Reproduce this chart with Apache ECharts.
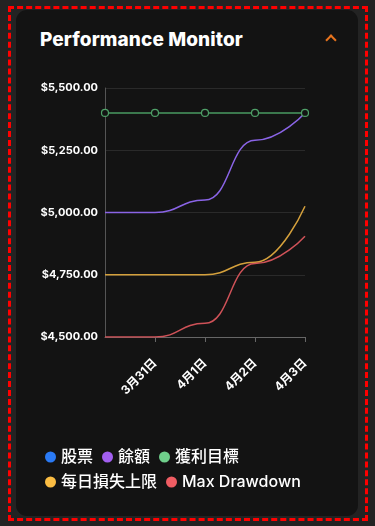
<!DOCTYPE html>
<html>
<head>
<meta charset="utf-8">
<script src="https://cdn.jsdelivr.net/npm/echarts@6/dist/echarts.min.js"></script>
<style>
  html, body { margin: 0; padding: 0; background: #232323; width: 375px; height: 526px; overflow: hidden; }
  .frame { position: absolute; left: 8px; top: 6px; width: 354px; height: 509px; border: 3px dashed #ff0000; }
  .card { position: absolute; left: 16px; top: 10px; width: 342px; height: 506px; background: #131313; border-radius: 11px; }
  .title { position: absolute; left: 40px; top: 28px; color: #fff; font: 800 19px Inter, Lato, sans-serif; letter-spacing: 0.1px; }
  .chev { position: absolute; left: 327px; top: 36px; width: 6px; height: 6px; border-left: 2px solid #e8741e; border-top: 2px solid #e8741e; transform: rotate(45deg); }
  #chart { position: absolute; left: 0; top: 0; width: 375px; height: 526px; }
</style>
</head>
<body>
<div class="frame"></div>
<div class="card"></div>
<div class="title">Performance Monitor</div>
<div class="chev"></div>
<div id="chart"></div>
<script>
// dates on the x axis (first one sits on the y axis, label hidden)
const dates = ['3月30日', '3月31日', '4月1日', '4月2日', '4月3日'];
const stocks = [];
const balance = [5000, 5000, 5050, 5290, 5400];
const profitTarget = [5400, 5400, 5400, 5400, 5400];
const dailyLossLimit = [4750, 4750, 4750, 4800, 5025];
const maxDrawdown = [4500, 4500, 4555, 4795, 4905];
const yTicks = { min: 4500, max: 5500, step: 250 };

const fmt = (v) => '$' + v.toLocaleString('en-US', { minimumFractionDigits: 2, maximumFractionDigits: 2 });

const mkLine = (name, data, color, lineColor, extra) => Object.assign({
  name: name,
  type: 'line',
  data: data,
  smooth: true,
  smoothMonotone: 'x',
  showSymbol: false,
  symbol: 'none',
  itemStyle: { color: color },
  lineStyle: { color: lineColor, width: 1.5 }
}, extra || {});

const chart = echarts.init(document.getElementById('chart'));
chart.setOption({
  backgroundColor: 'transparent',
  animation: false,
  grid: { left: 105, right: 70, top: 88, bottom: 189, containLabel: false },
  legend: {
    left: 40, top: 444, width: 290,
    icon: 'circle', itemWidth: 11, itemHeight: 11, itemGap: 9,
    textStyle: { color: '#fff', fontSize: 16, fontFamily: 'Inter, "Noto Sans CJK TC", sans-serif', fontWeight: 500, padding: [0, 0, 0, 0] },
    data: ['股票', '餘額', { name: '獲利目標', itemStyle: { color: '#6fcf8b', borderWidth: 0 } }, '每日損失上限', 'Max Drawdown']
  },
  xAxis: {
    type: 'category',
    data: dates,
    boundaryGap: false,
    axisLine: { lineStyle: { color: '#666', width: 1 } },
    axisTick: { length: 5, lineStyle: { color: '#666' } },
    axisLabel: {
      showMinLabel: false, rotate: 45, margin: 24,
      color: '#fff', fontSize: 12, fontWeight: 'bold',
      fontFamily: 'Inter, "Noto Sans CJK SC", sans-serif'
    },
    splitLine: { show: false }
  },
  yAxis: {
    type: 'value',
    min: yTicks.min, max: yTicks.max, interval: yTicks.step,
    axisLine: { show: true, lineStyle: { color: '#555' } },
    axisTick: { show: false },
    axisLabel: { formatter: fmt, color: '#fff', fontSize: 11, fontWeight: 'bold', margin: 7, fontFamily: 'Inter, sans-serif' },
    splitLine: { lineStyle: { color: '#2a2a2a', width: 1 } }
  },
  series: [
    mkLine('股票', stocks, '#2a7af5', '#2a7af5'),
    mkLine('餘額', balance, '#a25ff0', '#8a64e6'),
    mkLine('獲利目標', profitTarget, '#6fcf8b', '#4a9a62', {
      showSymbol: true, symbol: 'circle', symbolSize: 7,
      itemStyle: { color: '#131313', borderColor: '#4fa068', borderWidth: 1.2 },
      lineStyle: { color: '#4a9a62', width: 1.5 }
    }),
    mkLine('每日損失上限', dailyLossLimit, '#fbbd43', '#d4a03c'),
    mkLine('Max Drawdown', maxDrawdown, '#f05d63', '#cf5258')
  ]
});
</script>
</body>
</html>
